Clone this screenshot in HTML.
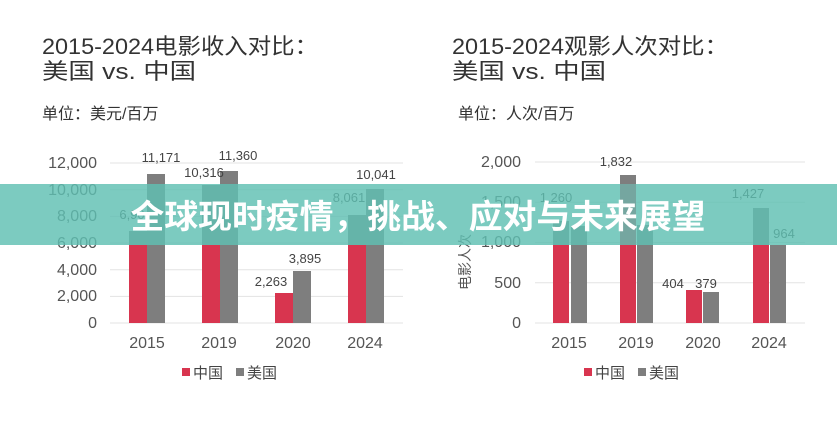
<!DOCTYPE html>
<html><head><meta charset="utf-8"><style>
html,body{margin:0;padding:0;background:#fff;}
svg{display:block;font-family:"Liberation Sans","Noto Sans CJK SC",sans-serif;}
</style></head><body>
<svg width="837" height="430" viewBox="0 0 837 430">
<rect width="837" height="430" fill="#fff"/>
<g fill="#333">
<text x="42" y="54" font-size="22" textLength="276" lengthAdjust="spacingAndGlyphs">2015-2024电影收入对比：</text>
<text x="42" y="79" font-size="22" textLength="154" lengthAdjust="spacingAndGlyphs">美国 vs. 中国</text>
<text x="42" y="119" font-size="16">单位：美元/百万</text>
<text x="452" y="54" font-size="22" textLength="276" lengthAdjust="spacingAndGlyphs">2015-2024观影人次对比：</text>
<text x="452" y="79" font-size="22" textLength="154" lengthAdjust="spacingAndGlyphs">美国 vs. 中国</text>
<text x="458" y="119" font-size="16">单位：人次/百万</text>
</g>
<g stroke="#e3e3e3" stroke-width="1">
<line x1="110" y1="163" x2="403" y2="163"/><line x1="110" y1="189.7" x2="403" y2="189.7"/>
<line x1="110" y1="216.4" x2="403" y2="216.4"/><line x1="110" y1="243" x2="403" y2="243"/>
<line x1="110" y1="269.7" x2="403" y2="269.7"/><line x1="110" y1="296.4" x2="403" y2="296.4"/>
<line x1="110" y1="323" x2="403" y2="323"/>
<line x1="535" y1="162" x2="805" y2="162"/><line x1="535" y1="202.3" x2="805" y2="202.3"/>
<line x1="535" y1="242.5" x2="805" y2="242.5"/><line x1="535" y1="282.8" x2="805" y2="282.8"/>
<line x1="535" y1="323" x2="805" y2="323"/>
</g>
<g font-size="16" fill="#555" text-anchor="end">
<text x="97" y="168">12,000</text><text x="97" y="195">10,000</text><text x="97" y="221">8,000</text>
<text x="97" y="248">6,000</text><text x="97" y="275">4,000</text><text x="97" y="301">2,000</text><text x="97" y="328">0</text>
<text x="521" y="167">2,000</text><text x="521" y="207">1,500</text><text x="521" y="247">1,000</text>
<text x="521" y="288">500</text><text x="521" y="328">0</text>
</g>
<text transform="translate(470,262) rotate(-90)" font-size="14" fill="#555" text-anchor="middle">电影人次</text>
<g fill="#d8354f">
<rect x="129" y="231" width="18" height="92"/><rect x="202" y="185" width="18" height="138"/>
<rect x="275" y="293" width="18" height="30"/><rect x="348" y="215" width="18" height="108"/>
<rect x="553" y="221" width="16" height="102"/><rect x="620" y="175" width="16" height="148"/>
<rect x="686" y="290" width="16" height="33"/><rect x="753" y="208" width="16" height="115"/>
</g>
<g fill="#7e7e7e">
<rect x="129" y="231" width="18" height="14"/><rect x="202" y="185" width="18" height="60"/><rect x="348" y="215" width="18" height="30"/>
<rect x="553" y="221" width="16" height="24"/><rect x="620" y="175" width="16" height="9"/><rect x="753" y="208" width="16" height="37"/>
<rect x="147" y="174" width="18" height="149"/><rect x="220" y="171" width="18" height="152"/>
<rect x="293" y="271" width="18" height="52"/><rect x="366" y="189" width="18" height="134"/>
<rect x="571" y="226" width="16" height="97"/><rect x="637" y="225" width="16" height="98"/>
<rect x="703" y="292" width="16" height="31"/><rect x="770" y="245" width="16" height="78"/>
</g>
<g font-size="13" fill="#444" text-anchor="middle">
<text x="161" y="162">11,171</text><text x="204" y="177">10,316</text><text x="238" y="160">11,360</text>
<text x="132" y="219">6,90</text><text x="271" y="286">2,263</text><text x="305" y="263">3,895</text>
<text x="349" y="202">8,061</text><text x="376" y="179">10,041</text>
<text x="556" y="202">1,260</text><text x="616" y="166">1,832</text><text x="673" y="288">404</text><text x="706" y="288">379</text>
<text x="748" y="198">1,427</text><text x="784" y="238">964</text>
</g>
<g font-size="16" fill="#555" text-anchor="middle">
<text x="147" y="348">2015</text><text x="219" y="348">2019</text><text x="293" y="348">2020</text><text x="365" y="348">2024</text>
<text x="569" y="348">2015</text><text x="636" y="348">2019</text><text x="703" y="348">2020</text><text x="769" y="348">2024</text>
</g>
<g font-size="15" fill="#444">
<rect x="182" y="368" width="8" height="8" fill="#d8354f"/><text x="193" y="378">中国</text>
<rect x="236" y="368" width="8" height="8" fill="#7e7e7e"/><text x="247" y="378">美国</text>
<rect x="584" y="368" width="8" height="8" fill="#d8354f"/><text x="595" y="378">中国</text>
<rect x="638" y="368" width="8" height="8" fill="#7e7e7e"/><text x="649" y="378">美国</text>
</g>
<rect x="0" y="184" width="837" height="61" fill="#5fbfb2" fill-opacity="0.82"/>
<text x="418" y="228" font-size="33" font-weight="bold" fill="#fff" text-anchor="middle" textLength="575" lengthAdjust="spacingAndGlyphs">全球现时疫情，挑战、应对与未来展望</text>
</svg>
</body></html>
